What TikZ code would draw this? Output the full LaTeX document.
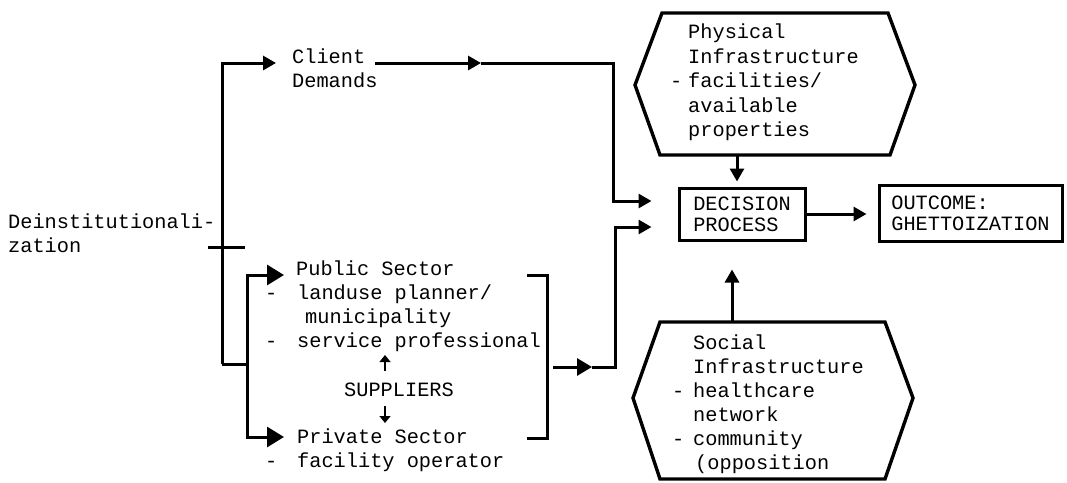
\documentclass[tikz,border=0pt]{standalone}
\usepackage{fontspec}
\setmonofont{Liberation Mono}
\usetikzlibrary{arrows.meta}
\begin{document}
\begin{tikzpicture}[x=1pt,y=-1pt,
  txt/.style={font=\ttfamily\fontsize{20.3}{24}\selectfont, inner sep=0pt, align=left, anchor=north west},
  hextxt/.style={font=\ttfamily\fontsize{20.3}{24.5}\selectfont, inner sep=0pt, align=left, anchor=north west},
  ln/.style={line width=3pt, line cap=butt, line join=miter},
  arrS/.style={ln, -{Triangle[length=13pt,width=14pt]}},
  arrM/.style={ln, -{Triangle[length=15pt,width=17pt]}},
  arrL/.style={ln, -{Triangle[length=17pt,width=20pt]}},
  arrT/.style={line width=1.3pt, -{Triangle[length=7pt,width=11pt]}},
  boxs/.style={draw, line width=3pt, inner sep=0pt, align=center,
    font=\ttfamily\fontsize{20.3}{21}\selectfont},
  hexs/.style={line width=3.4pt, line join=miter}
]
\fill[white] (0,0) rectangle (1067,482);
\useasboundingbox (0,0) rectangle (1067,482);

% text nodes
\node[txt] (deinst) at (8,211) {\strut Deinstitutionali-\\zation};
\node[txt] (client) at (292,46.2) {\strut Client\\Demands};
\node[txt] (pub) at (265,258.2) {\strut\hspace*{31pt}Public Sector\\
  \makebox[32pt][l]{-}landuse planner/\\
  \hspace*{40pt}municipality\\
  \makebox[32pt][l]{-}service professional};
\node[txt, anchor=base] (sup) at (399,396) {SUPPLIERS};
\node[txt] (priv) at (265,426.2) {\strut\hspace*{32pt}Private Sector\\
  \makebox[32pt][l]{-}facility operator};

% boxes
\node[boxs, minimum width=126pt, minimum height=52pt, align=left] (dec) at (742,214) {DECISION\\PROCESS};
\node[boxs, minimum width=183pt, minimum height=56pt, align=left] (out) at (970.5,213) {OUTCOME:\\GHETTOIZATION};

% hexagons
\draw[hexs] (662,13) -- (888,13) -- (915,85) -- (890,155) -- (660,155) -- (635,85) -- cycle;
\node[hextxt] (phys) at (670,21.2) {\strut\hspace*{18pt}Physical\\
  \hspace*{18pt}Infrastructure\\
  \makebox[18pt][l]{-}facilities/\\
  \hspace*{18pt}available\\
  \hspace*{18pt}properties};
\draw[hexs] (660,322) -- (885,322) -- (913,398) -- (885,479) -- (660,479) -- (633,398) -- cycle;
\node[txt] (soc) at (672,332.2) {\strut\hspace*{21pt}Social\\
  \hspace*{21pt}Infrastructure\\
  \makebox[21pt][l]{-}healthcare\\
  \hspace*{21pt}network\\
  \makebox[21pt][l]{-}community\\
  \hspace*{23pt}(opposition};

% coordinates
\coordinate (vt) at (222,63);
\coordinate (vb) at (222,364);
\coordinate (ca) at (276,63);
\coordinate (v2t) at (247,275);
\coordinate (v2b) at (247,437);
\coordinate (pa) at (284,275);
\coordinate (pra) at (284,437);
\coordinate (tk1) at (208,247);
\coordinate (tk2) at (245,247);
\coordinate (cl1) at (375,63);
\coordinate (cl2) at (481,63);
\coordinate (cr) at (613,63);
\coordinate (br1) at (527,275);
\coordinate (br2) at (547,275);
\coordinate (br3) at (547,438);
\coordinate (br4) at (527,438);
\coordinate (bm) at (553,367);
\coordinate (bmt) at (592,367);
\coordinate (bc) at (615,367);
\coordinate (phb) at (737,155);
\coordinate (sot) at (732,322);
\coordinate (su1) at (385,371);
\coordinate (su2) at (385,355);
\coordinate (sd1) at (385,406);
\coordinate (sd2) at (385,423);

% connectors
\draw[arrS] (vb) -- (vt) -- (ca);
\draw[ln] (tk1) -- (tk2);
\draw[ln] (vb) -- (vb -| v2t);
\draw[arrL] (v2b) -- (v2t) -- (pa);
\draw[arrL] (v2t) -- (v2b) -- (pra);
\draw[arrS] (cl1) -- (cl2);
\draw[arrS, shorten >=26pt] (cl2) -- (cr) |- ([yshift=13pt]dec.west);
\draw[ln] (br1) -- (br2) -- (br3) -- (br4);
\draw[arrM] (bm) -- (bmt);
\draw[arrS, shorten >=26pt] (bmt) -- (bc) |- ([yshift=-13pt]dec.west);
\draw[arrS, shorten >=5pt] (phb) -- (phb |- dec.north);
\draw[arrS, shorten >=28pt] (sot) -- (sot |- dec.south);
\draw[arrS, shorten >=11pt] (dec.east) -- (dec.east -| out.west);
\draw[arrT] (su1) -- (su2);
\draw[arrT] (sd1) -- (sd2);
\end{tikzpicture}
\end{document}
